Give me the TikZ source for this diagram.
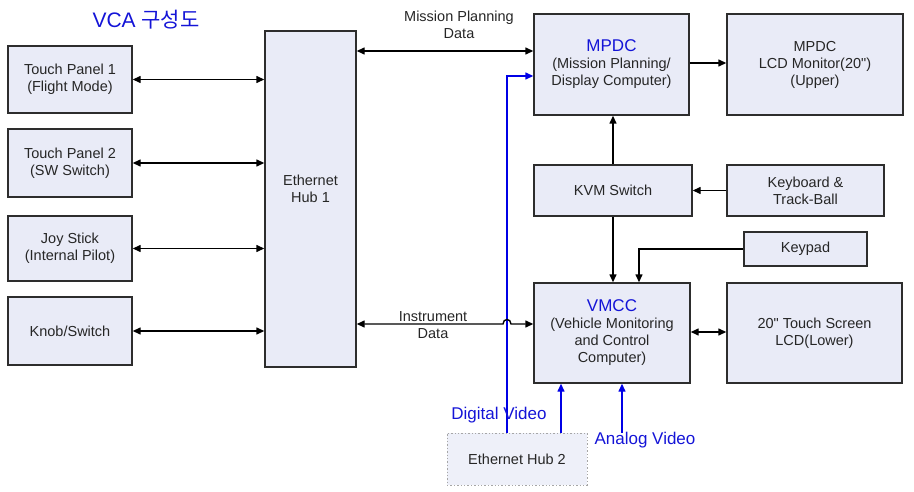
\documentclass[tikz,border=0pt]{standalone}
\usepackage{fontspec}
\setmainfont{Liberation Sans}[Ligatures=TeXOff]
\newfontfamily\krfont{Noto Sans CJK KR}
\usetikzlibrary{arrows.meta,calc}
\definecolor{boxfill}{RGB}{233,235,247}
\definecolor{hubfill}{RGB}{238,240,249}
\definecolor{edge}{RGB}{45,45,45}
\definecolor{vblue}{RGB}{20,20,215}
\definecolor{lblue}{RGB}{0,0,230}
\begin{document}
\begin{tikzpicture}[x=1pt,y=-1pt,
  every node/.style={font=\fontsize{14.5}{17}\selectfont, text=black!85},
  blk/.style={draw=edge, fill=boxfill, line width=1.4pt, align=center, inner sep=0pt},
  tip/.style={-{Triangle[length=8pt,width=7pt]}},
  dtip/.style={{Triangle[length=8pt,width=7pt]}-{Triangle[length=8pt,width=7pt]}},
  conn/.style={line width=1.4pt, draw=black},
  bconn/.style={line width=1.4pt, color=lblue},
  blab/.style={text=vblue, font=\fontsize{17}{20}\selectfont},
  plain/.style={align=center, inner sep=0pt}]
\useasboundingbox (0,0) rectangle (914,492);

\node[text=vblue, font=\fontsize{21}{24}\selectfont] (title) at (146,20) {VCA {\krfont 구성도}};

\node[blk, minimum width=124, minimum height=67] (tp1) at (70,79.5) {Touch Panel 1\\(Flight Mode)};
\node[blk, minimum width=124, minimum height=68] (tp2) at (70,163) {Touch Panel 2\\(SW Switch)};
\node[blk, minimum width=124, minimum height=65] (joy) at (70,248.5) {Joy Stick\\(Internal Pilot)};
\node[blk, minimum width=124, minimum height=68] (knob) at (70,331) {Knob/Switch};
\node[blk, minimum width=91, minimum height=336,
  label={[plain, yshift=10.5pt]center:Ethernet\\Hub 1}] (hub1) at (310.5,199) {};

\node[blk, minimum width=155, minimum height=101] (mpdc) at (611.5,64.5)
  {{\color{vblue}\fontsize{17}{19}\selectfont MPDC}\\(Mission Planning/\\Display Computer)};
\node[blk, minimum width=176, minimum height=101] (lcd) at (815,64.5) {MPDC\\LCD Monitor(20")\\(Upper)};
\node[blk, minimum width=158, minimum height=51] (kvm) at (613,190.5) {KVM Switch};
\node[blk, minimum width=157, minimum height=51] (kb) at (805.5,190.5) {Keyboard \&\\Track-Ball};
\node[blk, minimum width=123, minimum height=34] (keypad) at (805.5,249) {Keypad};
\node[blk, minimum width=156, minimum height=100] (vmcc) at (612,333)
  {{\color{vblue}\fontsize{17}{19}\selectfont VMCC}\\(Vehicle Monitoring\\and Control\\Computer)};
\node[blk, minimum width=175, minimum height=100] (touch) at (814.5,333) {20" Touch Screen\\LCD(Lower)};
\node[blk, draw=gray!70, dotted, line width=1pt, fill=hubfill, minimum width=140, minimum height=52] (hub2) at (517,459) {Ethernet Hub 2};

% left connectors
\draw[conn, dtip] (tp1.east) -- (tp1.east -| hub1.west);
\draw[conn, dtip] (tp2.east) -- (tp2.east -| hub1.west);
\draw[conn, dtip] (joy.east) -- (joy.east -| hub1.west);
\draw[conn, dtip] (knob.east) -- (knob.east -| hub1.west);

% mission planning data
\coordinate (mpd) at ([yshift=13.5pt]mpdc.west);
\draw[conn, dtip] (hub1.east |- mpd) -- (mpd);
\node[plain] (mplab) at (459,25) {Mission Planning\\Data};

% mpdc to lcd
\draw[conn, tip] ([yshift=1.5pt]mpdc.east) -- ([yshift=1.5pt]mpdc.east -| lcd.west);

% kvm
\draw[conn, tip] (kvm.north) -- (kvm.north |- mpdc.south);
\draw[conn, tip] (kb.west) -- (kb.west -| kvm.east);
\draw[conn, tip] (kvm.south) -- (kvm.south |- vmcc.north);
\coordinate (kpc) at (639,249);
\draw[conn, tip] (keypad.west) -- (kpc) -- (kpc |- vmcc.north);

% vmcc to touch screen
\draw[conn, dtip] ([yshift=1pt]vmcc.east) -- ([yshift=1pt]vmcc.east -| touch.west);

% blue digital video line to mpdc
\coordinate (dvx) at ([xshift=-10pt]hub2.north);
\coordinate (dvin) at ([yshift=-11.5pt]mpdc.west);
\draw[bconn, tip] (dvx) -- (dvx |- dvin) -- (dvin);

% instrument data with jump
\coordinate (idin) at ([yshift=9pt]vmcc.west);
\coordinate (ja) at ($(dvx |- idin)+(-4,0)$);
\coordinate (jb) at ($(dvx |- idin)+(4,0)$);
\draw[conn, dtip] (hub1.east |- idin) -- (ja) .. controls ($(ja)+(0,-6)$) and ($(jb)+(0,-6)$) .. (jb) -- (idin);
\node[plain] (idlab) at (433,325.5) {Instrument\\Data};

% video into vmcc
\coordinate (dv2) at ([xshift=44pt]hub2.north);
\draw[bconn, tip] (dv2) -- (dv2 |- vmcc.south);
\coordinate (av) at (622,433);
\draw[bconn, tip] (av) -- (av |- vmcc.south);

\node[blab] (dvlab) at (499,415) {Digital Video};
\node[blab] (avlab) at (645,440) {Analog Video};
\end{tikzpicture}
\end{document}
